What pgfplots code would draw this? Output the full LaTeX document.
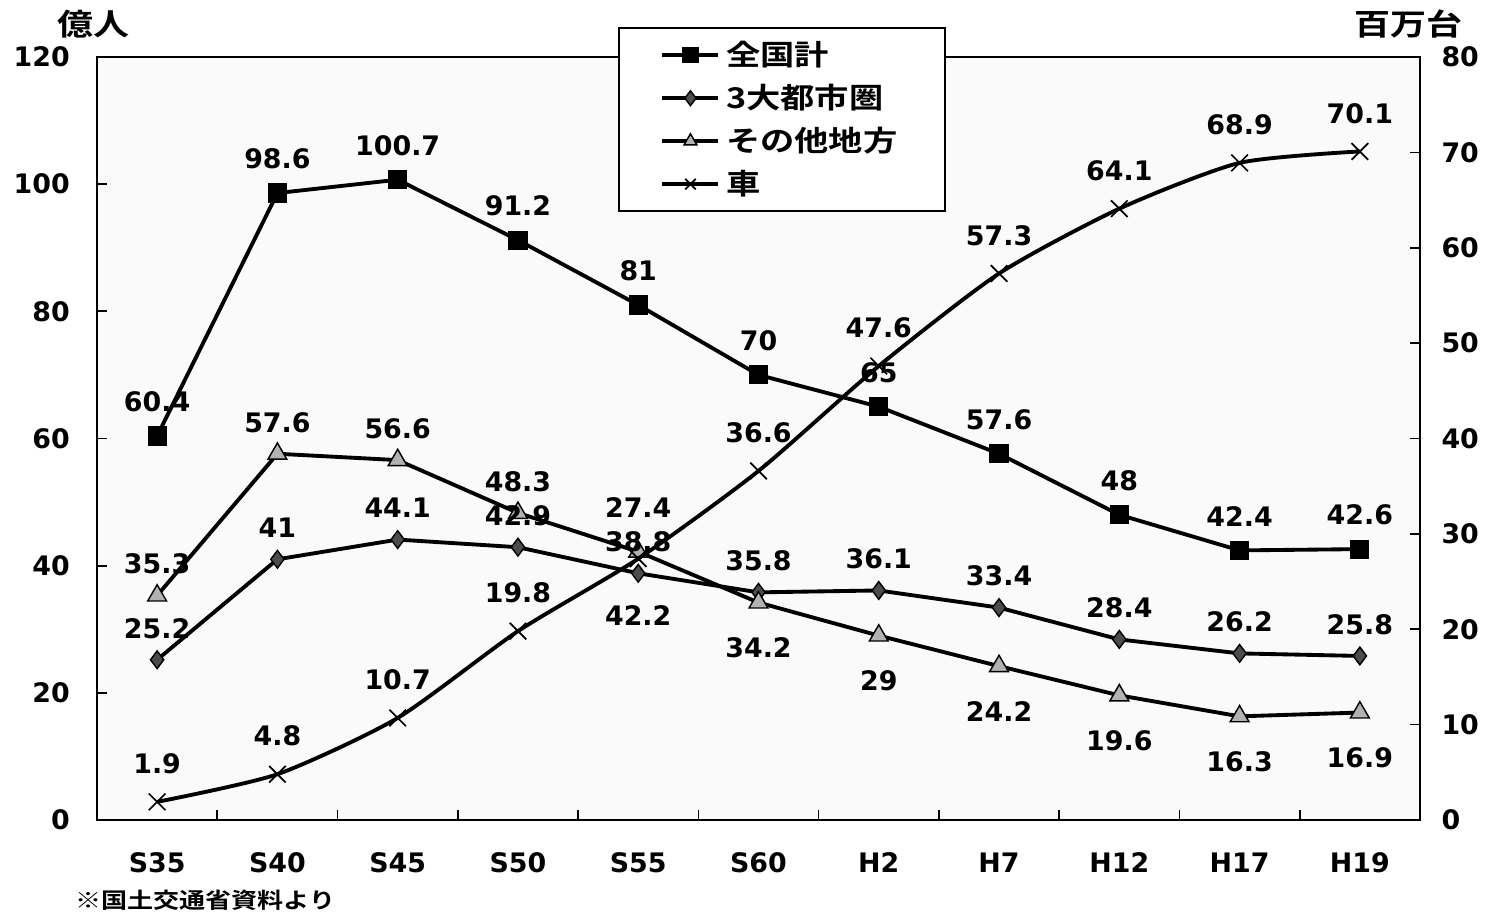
\documentclass[border=0pt]{standalone}
\usepackage{pgfplots}
\pgfplotsset{compat=1.18}
\usepackage{fontspec}
\setmainfont{DejaVu Sans}
\newfontfamily\cjk[FakeStretch=1.2]{Noto Sans CJK JP Bold}

\pgfplotsset{
  lbl/.style={draw=none, no marks, forget plot, nodes near coords,
    point meta=explicit symbolic,
    every node near coord/.append style={anchor=center, yshift=#1,
      font=\bfseries\fontsize{9.4}{11}\selectfont, text=black}},
  s1/.style={black, line width=1.35pt, mark=square*, mark size=3.1pt,
    mark options={fill=black, line width=0.5pt}},
  s2/.style={black, line width=1.35pt, mark=diamond*, mark size=3.1pt,
    mark options={fill=black!70, draw=black, line width=0.5pt}},
  s3/.style={black, line width=1.35pt, mark=triangle*, mark size=3.8pt,
    mark options={fill=black!30, draw=black, line width=0.5pt}},
  s4/.style={black, line width=1.35pt, mark=x, mark size=4.1pt,
    mark options={line width=0.6pt}},
}

\begin{document}
\begin{tikzpicture}
\path[use as bounding box] (-33.95pt,-33.95pt) rectangle (486.15pt,287pt);

\begin{axis}[
  scale only axis, width=463.05pt, height=267.05pt,
  xmin=-0.5, xmax=10.5, ymin=0, ymax=120,
  xtick={0,...,10},
  xticklabels={S35,S40,S45,S50,S55,S60,H2,H7,H12,H17,H19},
  minor xtick={0.5,1.5,...,9.5},
  ytick={0,20,...,120},
  xtick pos=bottom, ytick pos=left,
  tick align=inside,
  major tick length=3.5pt, minor tick length=3.5pt,
  major x tick style={draw=none},
  minor x tick style={black, line width=0.6pt},
  y tick style={black, line width=0.6pt},
  axis line style={line width=0.8pt},
  axis background/.style={fill=black!2},
  /pgf/number format/assume math mode=true,
  ticklabel style={font=\bfseries\fontsize{9.4}{11}\selectfont},
  yticklabel style={xshift=-6pt},
  xticklabel style={yshift=-8pt},
  clip=false,
  legend style={at={(0.394,1.039)}, anchor=north west, draw=black,
    line width=0.6pt, fill=white, inner xsep=14.5pt, inner ysep=2.5pt,
    row sep=1pt, font=\cjk\fontsize{10}{12}\selectfont},
  legend cell align=left,
  legend image code/.code={
    \draw[mark repeat=2, mark phase=2, mark size=2.6pt, #1]
      plot coordinates {(0pt,0pt) (9.8pt,0pt) (19.6pt,0pt)};},
]
\addplot[s1] coordinates {
  (0,60.4) (1,98.6) (2,100.7) (3,91.2) (4,81) (5,70)
  (6,65) (7,57.6) (8,48) (9,42.4) (10,42.6)};
\addlegendentry{全国計}
\addplot[s2] coordinates {
  (0,25.2) (1,41) (2,44.1) (3,42.9) (4,38.8) (5,35.8)
  (6,36.1) (7,33.4) (8,28.4) (9,26.2) (10,25.8)};
\addlegendentry{3大都市圏}
\addplot[s3] coordinates {
  (0,35.3) (1,57.6) (2,56.6) (3,48.3) (4,42.2) (5,34.2)
  (6,29) (7,24.2) (8,19.6) (9,16.3) (10,16.9)};
\addlegendentry{その他地方}
\addlegendimage{s4}
\addlegendentry{車}

% data labels
\addplot[lbl=12pt] coordinates {
  (0,60.4)[60.4] (1,98.6)[98.6] (2,100.7)[100.7] (3,91.2)[91.2]
  (4,81)[81] (5,70)[70] (6,65)[65] (7,57.6)[57.6] (8,48)[48]
  (9,42.4)[42.4] (10,42.6)[42.6]};
\addplot[lbl=11pt] coordinates {
  (0,25.2)[25.2] (1,41)[41] (2,44.1)[44.1] (3,42.9)[42.9]
  (4,38.8)[38.8] (5,35.8)[35.8] (6,36.1)[36.1] (7,33.4)[33.4]
  (8,28.4)[28.4] (9,26.2)[26.2] (10,25.8)[25.8]};
\addplot[lbl=11pt] coordinates {
  (0,35.3)[35.3] (1,57.6)[57.6] (2,56.6)[56.6] (3,48.3)[48.3]};
\addplot[lbl=-22.5pt] coordinates {(4,42.2)[42.2]};
\addplot[lbl=-15.8pt] coordinates {
  (5,34.2)[34.2] (6,29)[29] (7,24.2)[24.2] (8,19.6)[19.6]
  (9,16.3)[16.3] (10,16.9)[16.9]};

\node[font=\cjk\fontsize{10.5}{12}\selectfont] at (rel axis cs:-0.003,1.043) {億人};
\node[font=\cjk\fontsize{10.5}{12}\selectfont] at (rel axis cs:0.991,1.043) {百万台};
\node[anchor=west, inner sep=0pt, font=\cjk\fontsize{7.6}{9}\selectfont]
  at (rel axis cs:-0.017,-0.105) {※国土交通省資料より};
\end{axis}

\begin{axis}[
  scale only axis, width=463.05pt, height=267.05pt,
  xmin=-0.5, xmax=10.5, ymin=0, ymax=80,
  axis x line=none, axis y line*=right,
  ytick={0,10,...,80},
  tick align=inside, major tick length=3.5pt,
  y tick style={black, line width=0.6pt},
  axis line style={line width=0.8pt},
  /pgf/number format/assume math mode=true,
  ticklabel style={font=\bfseries\fontsize{9.4}{11}\selectfont},
  yticklabel style={xshift=4pt},
  clip=false,
]
\addplot[s4, smooth, tension=0.4] coordinates {
  (0,1.9) (1,4.8) (2,10.7) (3,19.8) (4,27.4) (5,36.6)
  (6,47.6) (7,57.3) (8,64.1) (9,68.9) (10,70.1)};
\addplot[lbl=13.3pt] coordinates {
  (0,1.9)[1.9] (1,4.8)[4.8] (2,10.7)[10.7] (3,19.8)[19.8]
  (5,36.6)[36.6] (6,47.6)[47.6] (7,57.3)[57.3] (8,64.1)[64.1]
  (9,68.9)[68.9] (10,70.1)[70.1]};
\addplot[lbl=17.8pt] coordinates {(4,27.4)[27.4]};
\end{axis}
\end{tikzpicture}
\end{document}
